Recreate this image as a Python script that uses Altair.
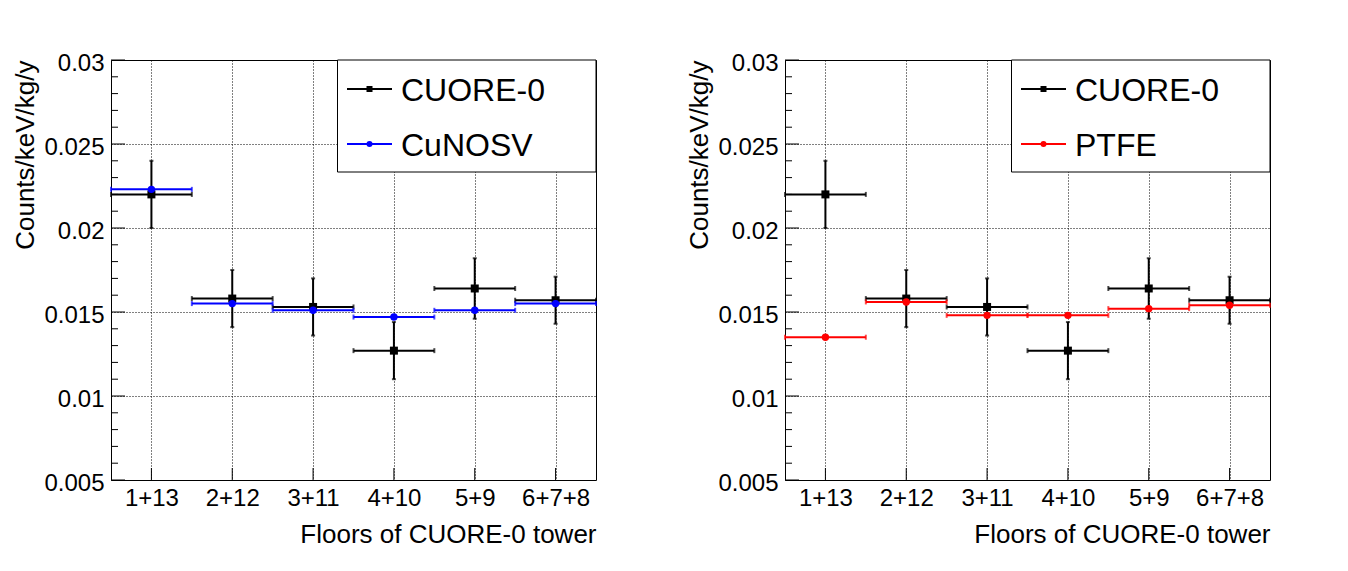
import json
import altair as alt
import pandas as pd

# ---------------- data ----------------
categories = ["1+13", "2+12", "3+11", "4+10", "5+9", "6+7+8"]
cuore0 = [0.0220, 0.0158, 0.0153, 0.0127, 0.0164, 0.0157]
cuore0_err = [0.0020, 0.0017, 0.0017, 0.0017, 0.0018, 0.0014]
cunosv = [0.0223, 0.0155, 0.0151, 0.0147, 0.0151, 0.0155]
ptfe = [0.0135, 0.0156, 0.0148, 0.0148, 0.0152, 0.0154]

y_major = [0.005, 0.01, 0.015, 0.02, 0.025, 0.03]
y_minor = [0.006, 0.007, 0.008, 0.009, 0.011, 0.012, 0.013, 0.014,
           0.016, 0.017, 0.018, 0.019, 0.021, 0.022, 0.023, 0.024,
           0.026, 0.027, 0.028, 0.029]
x_title = "Floors of CUORE-0 tower"
y_title = "Counts/keV/kg/y"
ref_name = "CUORE-0"

FONT = "Liberation Sans"
W, H = 485, 420

x_centers = [i + 0.5 for i in range(len(categories))]
x_lo = [i for i in range(len(categories))]
x_hi = [i + 1 for i in range(len(categories))]

xscale = alt.Scale(domain=[0, len(categories)], nice=False, zero=False)
yscale = alt.Scale(domain=[y_major[0], y_major[-1]], nice=False, zero=False)

label_expr = json.dumps(categories) + "[floor(datum.value)]"

XAXIS = alt.Axis(
    values=x_centers, labelExpr=label_expr, title=x_title,
    grid=True, gridColor="black", gridDash=[1, 2], gridWidth=1, gridOpacity=1,
    ticks=False, tickSize=0, domain=False,
    labelFont=FONT, labelFontSize=24, labelColor="black",
    labelBaseline="alphabetic", labelPadding=25, labelFlush=False,
    labelOverlap=False,
    titleFont=FONT, titleFontSize=26, titleFontWeight="normal",
    titleColor="black", titleX=W, titleY=62, titleAlign="right",
    titleAnchor="end", titleBaseline="alphabetic",
)
YAXIS = alt.Axis(
    values=y_major, format="~g", title=y_title,
    grid=True, gridColor="black", gridDash=[1, 2], gridWidth=1, gridOpacity=1,
    ticks=False, tickSize=0, domain=False,
    labelFont=FONT, labelFontSize=24, labelColor="black",
    labelAlign="right", labelBaseline="middle", labelPadding=7,
    labelOffset=3, labelFlush=False, labelOverlap=False,
    titleFont=FONT, titleFontSize=26, titleFontWeight="normal",
    titleColor="black", titleAngle=270, titleX=-78, titleY=0,
    titleAlign="right", titleAnchor="end", titleBaseline="alphabetic",
)


def X(field):
    return alt.X(field, scale=xscale, axis=XAXIS)


def Y(field):
    return alt.Y(field, scale=yscale, axis=YAXIS)


def series_df(vals, errs=None):
    d = {"x": x_centers, "lo": x_lo, "hi": x_hi, "y": vals}
    if errs is not None:
        d["ylo"] = [v - e for v, e in zip(vals, errs)]
        d["yhi"] = [v + e for v, e in zip(vals, errs)]
    return pd.DataFrame(d)


one = pd.DataFrame({"k": [0]})


def series_layers(df, color, shape, size, vertical):
    layers = []
    layers.append(
        alt.Chart(df).mark_rule(color=color, strokeWidth=2).encode(
            x=X("lo:Q"), x2="hi:Q", y=Y("y:Q"),
        )
    )
    layers.append(
        alt.Chart(df).transform_fold(["lo", "hi"], as_=["k", "ex"]).mark_tick(
            color=color, orient="vertical", size=5, thickness=2
        ).encode(x=X("ex:Q"), y=Y("y:Q"))
    )
    if vertical:
        layers.append(
            alt.Chart(df).mark_rule(color=color, strokeWidth=2).encode(
                x=X("x:Q"), y=Y("ylo:Q"), y2="yhi:Q",
            )
        )
        layers.append(
            alt.Chart(df).transform_fold(["ylo", "yhi"], as_=["k", "ey"]).mark_tick(
                color=color, orient="horizontal", size=4, thickness=2
            ).encode(x=X("x:Q"), y=Y("ey:Q"))
        )
    layers.append(
        alt.Chart(df).mark_point(shape=shape, filled=True, opacity=1,
                                 color=color, size=size).encode(
            x=X("x:Q"), y=Y("y:Q"),
        )
    )
    return layers


def legend_layers(entries):
    layers = [
        alt.Chart(one).mark_rect(fill="white", stroke="black", strokeWidth=1).encode(
            x=alt.value(226.5), x2=alt.value(W), y=alt.value(0), y2=alt.value(112)
        )
    ]
    for i, (name, color, shape) in enumerate(entries):
        yc = 29 + 55 * i
        layers.append(
            alt.Chart(one).mark_rule(color=color, strokeWidth=2).encode(
                x=alt.value(236), x2=alt.value(281), y=alt.value(yc)
            )
        )
        layers.append(
            alt.Chart(one).mark_point(shape=shape, filled=True, opacity=1,
                                      color=color, size=36).encode(
                x=alt.value(258.5), y=alt.value(yc)
            )
        )
        layers.append(
            alt.Chart(one).mark_text(align="left", baseline="alphabetic",
                                     fontSize=32, font=FONT, color="black").encode(
                x=alt.value(290), y=alt.value(yc + 11.5), text=alt.value(name)
            )
        )
    return layers


def panel(other_name, other_vals, other_color):
    major = pd.DataFrame({"v": y_major})
    minor = pd.DataFrame({"v": y_minor})
    xt = pd.DataFrame({"v": x_centers})

    layers = [
        alt.Chart(major).mark_rule(color="black", strokeWidth=1).encode(
            y=Y("v:Q"), x=alt.value(0), x2=alt.value(14),
        ),
        alt.Chart(minor).mark_rule(color="black", strokeWidth=1).encode(
            y=Y("v:Q"), x=alt.value(0), x2=alt.value(7),
        ),
        alt.Chart(xt).mark_rule(color="black", strokeWidth=1).encode(
            x=X("v:Q"), y=alt.value(H), y2=alt.value(H - 12),
        ),
    ]
    layers += series_layers(series_df(cuore0, cuore0_err), "black", "square", 64, True)
    layers += series_layers(series_df(other_vals), other_color, "circle", 55, False)
    layers += legend_layers([(ref_name, "black", "square"),
                             (other_name, other_color, "circle")])
    return alt.layer(*layers).properties(width=W, height=H)


left = panel("CuNOSV", cunosv, "#0000ff")
right = panel("PTFE", ptfe, "#ff0000")

chart = alt.hconcat(left, right, spacing=189, bounds="flush").properties(
    padding={"left": 3, "top": 42, "right": 5, "bottom": 5}
).configure(
    background="white", font=FONT
).configure_view(
    stroke="black", strokeWidth=1, fill="white"
)

chart.save("out.html", embed_options={"renderer": "svg", "actions": False})
